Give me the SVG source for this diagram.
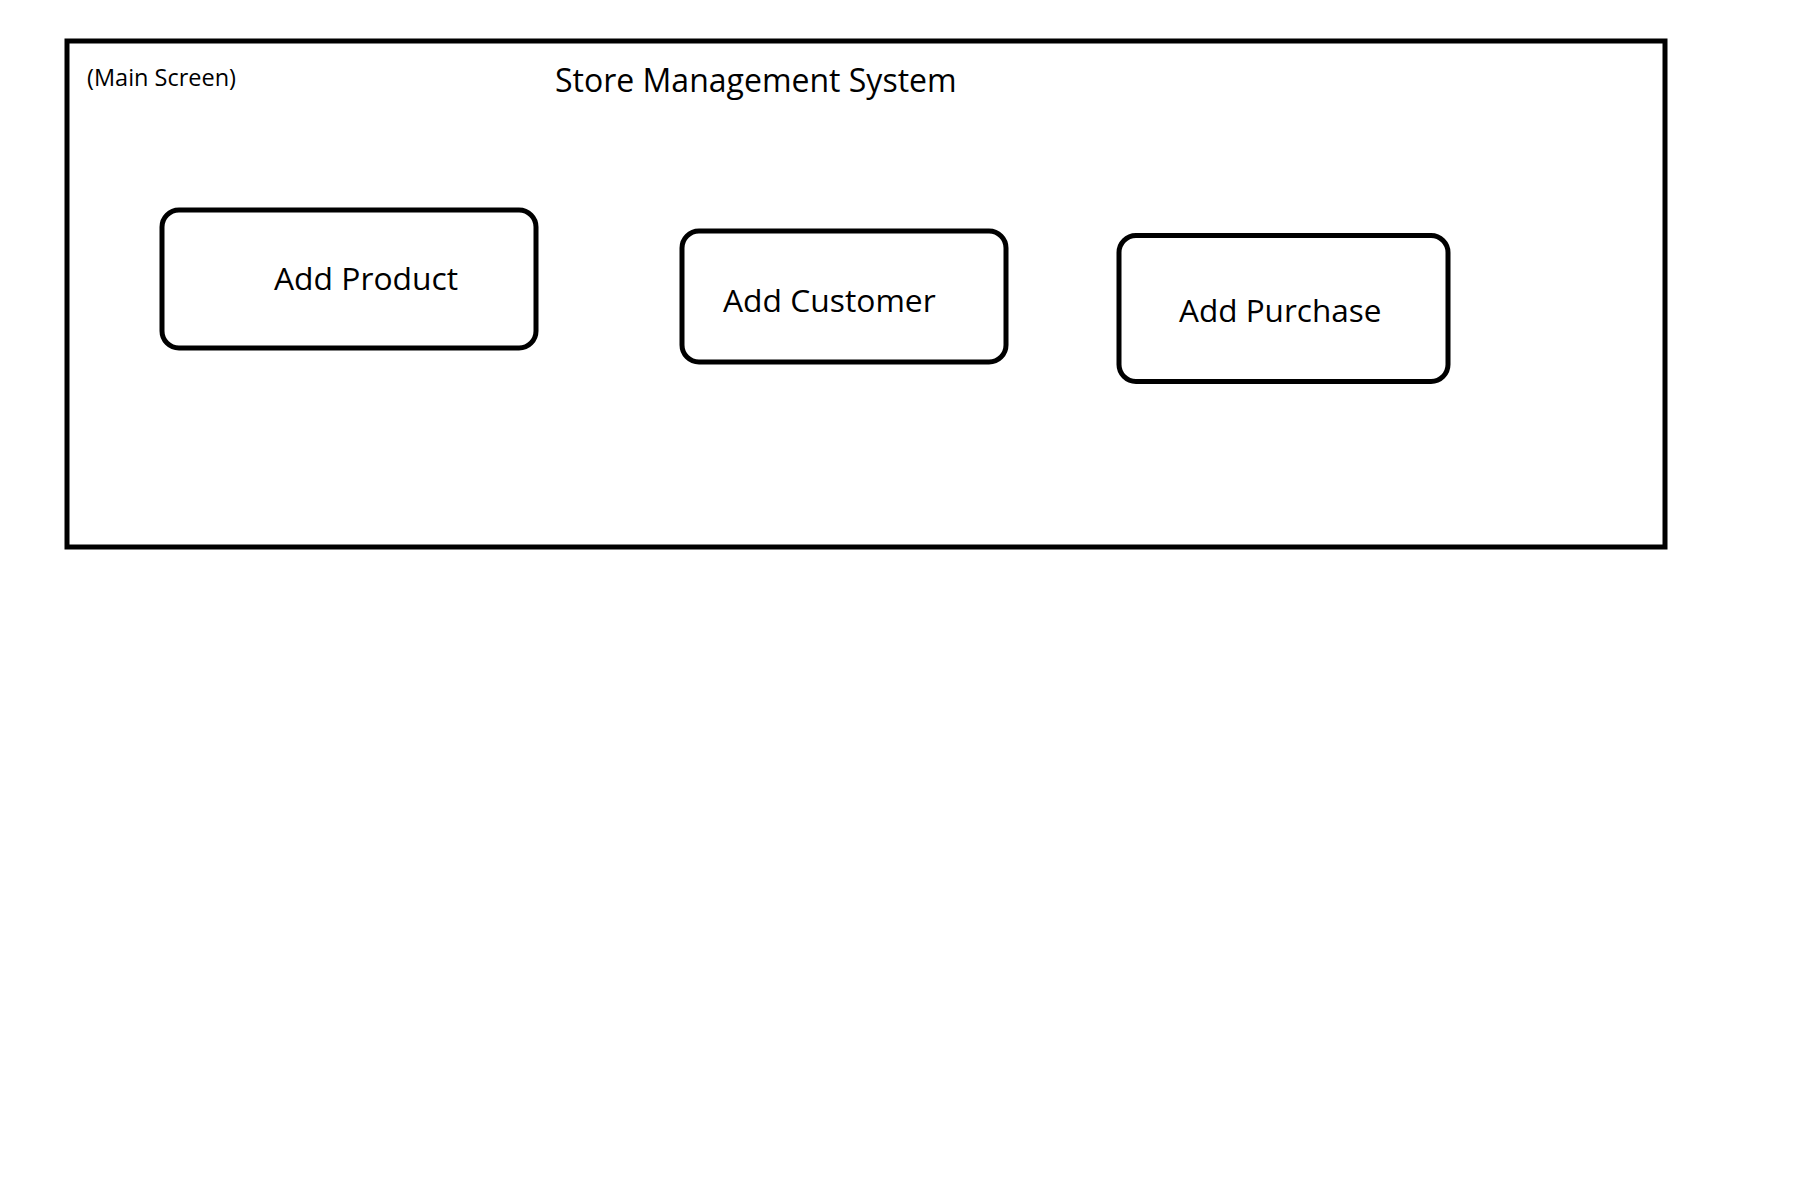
<svg xmlns="http://www.w3.org/2000/svg" width="1800" height="1200" viewBox="0 0 1800 1200">
<style>
.frame{fill:#ffffff;stroke:#000000;stroke-width:5}
.box{fill:#ffffff;stroke:#000000;stroke-width:5}
.t{font-family:"Open Sans","Noto Sans","DejaVu Sans",sans-serif;fill:#000000}
</style>
<rect x="0" y="0" width="1800" height="1200" fill="#ffffff"/>
<g id="main-screen">
<rect class="frame" x="67" y="41" width="1598" height="506"/>
<text class="t" x="87" y="86" font-size="23.5">(Main Screen)</text>
<text class="t" x="555" y="92" font-size="32">Store Management System</text>
</g>
<g id="connectors"></g>
<g id="add-product">
<rect class="box" x="162" y="210" width="374" height="138" rx="17"/>
<text class="t" x="274" y="290" font-size="31.8">Add Product</text>
</g>
<g id="add-customer">
<rect class="box" x="682" y="231" width="324" height="131" rx="17"/>
<text class="t" x="723" y="312" font-size="31.8">Add Customer</text>
</g>
<g id="add-purchase">
<rect class="box" x="1119" y="235.5" width="329" height="146" rx="17"/>
<text class="t" x="1179" y="322" font-size="31.5">Add Purchase</text>
</g>
</svg>
